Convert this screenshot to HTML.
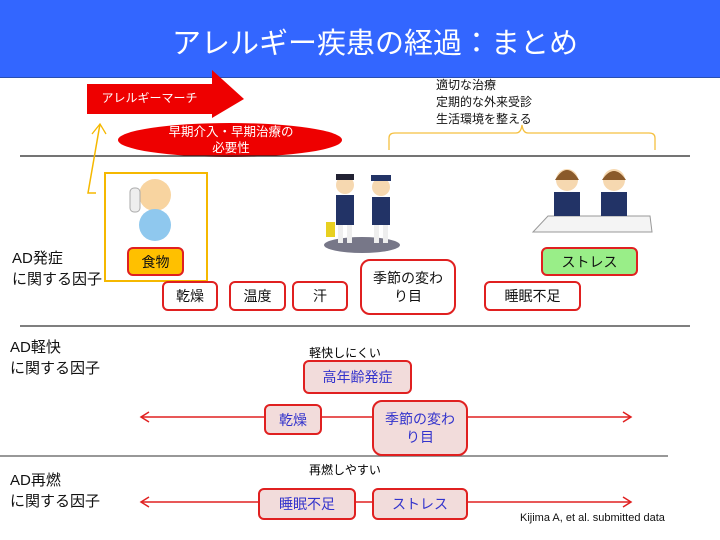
<!DOCTYPE html>
<html><head><meta charset="utf-8"><style>
body{margin:0;width:720px;height:540px;background:#fff;position:relative;overflow:hidden;font-family:"Liberation Sans","Noto Sans CJK JP",sans-serif;}
.a{position:absolute;}
.b{position:absolute;box-sizing:border-box;border:2px solid #e02020;border-radius:6px;background:#fff;display:flex;align-items:center;justify-content:center;text-align:center;font-size:14px;line-height:18px;color:#111;}
.p{background:#f2dcdb;color:#3333cc;}
.l{position:absolute;font-size:15px;line-height:21px;color:#111;}
</style></head><body>
<div class="a" style="left:0;top:0;width:720px;height:77px;background:#3366ff;border-bottom:1px solid #2a4fb0;"></div>
<div class="a" style="left:0;top:24px;width:750px;text-align:center;font-size:29px;color:#fff;line-height:40px;">アレルギー疾患の経過：まとめ</div>
<svg class="a" style="left:0;top:0" width="720" height="540">
<polygon points="87,84 212,84 212,70 244,99 212,118 212,114 87,114" fill="#ee0000"/>
<ellipse cx="230" cy="140" rx="112" ry="17" fill="#ee0000"/>
<line x1="20" y1="156" x2="690" y2="156" stroke="#222" stroke-width="1.3"/>
<polyline points="96,193 88,193 100,124" fill="none" stroke="#f5b800" stroke-width="1.5"/>
<polyline points="92,134 100,124 106,134" fill="none" stroke="#f5b800" stroke-width="1.3"/>
<rect x="105" y="173" width="102" height="108" fill="none" stroke="#f5b800" stroke-width="2"/>
<path d="M389,150 V138 Q389,133 395,133 H516 Q521,133 522,125 Q523,133 528,133 H649 Q655,133 655,138 V150" fill="none" stroke="#f5c040" stroke-width="1.3"/>
<line x1="20" y1="326" x2="690" y2="326" stroke="#333" stroke-width="1.2"/>
<line x1="0" y1="456" x2="668" y2="456" stroke="#777" stroke-width="1.5"/>
<line x1="142" y1="417" x2="630" y2="417" stroke="#e02020" stroke-width="1.5"/>
<polyline points="149,412 141,417 149,422" fill="none" stroke="#e02020" stroke-width="1.5"/>
<polyline points="623,412 631,417 623,422" fill="none" stroke="#e02020" stroke-width="1.5"/>
<line x1="142" y1="502" x2="630" y2="502" stroke="#e02020" stroke-width="1.5"/>
<polyline points="149,497 141,502 149,507" fill="none" stroke="#e02020" stroke-width="1.5"/>
<polyline points="623,497 631,502 623,507" fill="none" stroke="#e02020" stroke-width="1.5"/>
<!-- baby -->
<circle cx="155" cy="195" r="16" fill="#f8d4a0"/>
<rect x="130" y="188" width="10" height="24" rx="4" fill="#eee" stroke="#aaa"/>
<ellipse cx="155" cy="225" rx="16" ry="16" fill="#8fc8ee"/>
<!-- kids -->
<ellipse cx="362" cy="245" rx="38" ry="8" fill="#778"/>
<circle cx="345" cy="185" r="9" fill="#f6d8b0"/><rect x="336" y="174" width="18" height="6" fill="#223"/>
<rect x="336" y="195" width="18" height="30" fill="#223366"/>
<rect x="338" y="225" width="5" height="18" fill="#eee"/><rect x="347" y="225" width="5" height="18" fill="#eee"/>
<rect x="326" y="222" width="9" height="15" fill="#e8d020"/>
<circle cx="381" cy="187" r="9" fill="#f6d8b0"/><rect x="371" y="175" width="20" height="6" fill="#223366"/>
<rect x="372" y="197" width="18" height="28" fill="#223366"/>
<rect x="374" y="225" width="5" height="18" fill="#eee"/><rect x="383" y="225" width="5" height="18" fill="#eee"/>
<!-- students -->
<polygon points="533,232 548,216 650,216 652,232" fill="#f4f4f4" stroke="#999"/>
<circle cx="567" cy="180" r="11" fill="#f6d8b0"/><path d="M555,180 Q567,160 579,180" fill="#8a5a2a"/>
<rect x="554" y="192" width="26" height="24" fill="#223366"/>
<circle cx="614" cy="180" r="11" fill="#f6d8b0"/><path d="M602,180 Q614,162 626,180" fill="#8a5a2a"/>
<rect x="601" y="192" width="26" height="24" fill="#223366"/>
</svg>
<div class="a" style="left:87px;top:90px;width:125px;text-align:center;font-size:12px;color:#fff;line-height:16px;">アレルギーマーチ</div>
<div class="a" style="left:118px;top:124px;width:226px;text-align:center;font-size:12.5px;color:#fff;line-height:16px;">早期介入・早期治療の<br>必要性</div>
<div class="a" style="left:436px;top:77px;font-size:12px;line-height:17px;color:#111;">適切な治療<br>定期的な外来受診<br>生活環境を整える</div>
<div class="b" style="left:127px;top:247px;width:57px;height:29px;background:#ffc000;">食物</div>
<div class="b" style="left:162px;top:281px;width:56px;height:30px;">乾燥</div>
<div class="b" style="left:229px;top:281px;width:57px;height:30px;">温度</div>
<div class="b" style="left:292px;top:281px;width:56px;height:30px;">汗</div>
<div class="b" style="left:360px;top:259px;width:96px;height:56px;border-radius:10px;">季節の変わ<br>り目</div>
<div class="b" style="left:484px;top:281px;width:97px;height:30px;">睡眠不足</div>
<div class="b" style="left:541px;top:247px;width:97px;height:29px;background:#99ee88;">ストレス</div>
<div class="l" style="left:12px;top:248px;">AD発症<br>に関する因子</div>
<div class="l" style="left:10px;top:337px;">AD軽快<br>に関する因子</div>
<div class="l" style="left:10px;top:470px;">AD再燃<br>に関する因子</div>
<div class="a" style="left:290px;top:344px;width:110px;text-align:center;font-size:12px;">軽快しにくい</div>
<div class="a" style="left:290px;top:461px;width:110px;text-align:center;font-size:12px;">再燃しやすい</div>
<div class="b p" style="left:303px;top:360px;width:109px;height:34px;">高年齢発症</div>
<div class="b p" style="left:264px;top:404px;width:58px;height:31px;">乾燥</div>
<div class="b p" style="left:372px;top:400px;width:96px;height:56px;border-radius:10px;">季節の変わ<br>り目</div>
<div class="b p" style="left:258px;top:488px;width:98px;height:32px;">睡眠不足</div>
<div class="b p" style="left:372px;top:488px;width:96px;height:32px;">ストレス</div>
<div class="a" style="left:520px;top:512px;font-size:11px;color:#111;">Kijima A, et al. submitted data</div>
</body></html>
